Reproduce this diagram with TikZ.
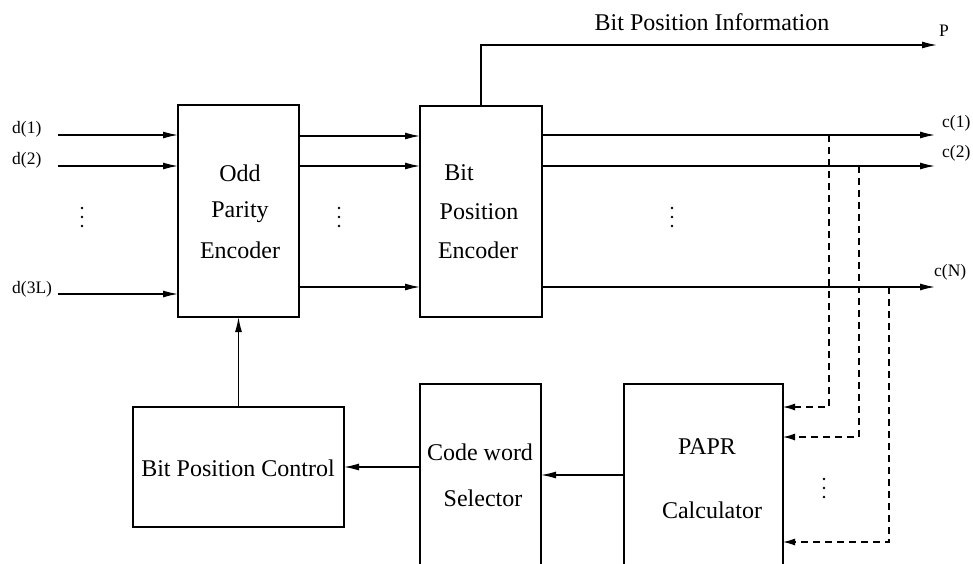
\documentclass[tikz,border=0pt]{standalone}
\usepackage{fontspec}
\setmainfont{Liberation Serif}
\usetikzlibrary{arrows.meta}
\begin{document}
\begin{tikzpicture}[x=1pt,y=-1pt,
  blk/.style={draw,line width=1.3pt,inner sep=0pt,outer sep=0pt},
  big/.style={font=\fontsize{24}{28}\selectfont,inner sep=0pt},
  lbl/.style={font=\fontsize{17.5}{20}\selectfont,inner sep=0pt},
  sig/.style={line width=1.3pt,-{Latex[length=15pt,width=7pt]}},
  fb/.style={line width=1.2pt,dash pattern=on 7pt off 5pt,-{Latex[length=12pt,width=7pt]}},
  dot/.style={circle,fill,inner sep=0pt,minimum size=2.6pt}]
\useasboundingbox (0,0) rectangle (973,563);
\clip (0,0) rectangle (973,563);
% blocks
\node[blk,minimum width=121pt,minimum height=212pt] (ope) at (238.5,211) {};
\node[blk,minimum width=122pt,minimum height=211pt] (bpe) at (481,211.5) {};
\node[blk,minimum width=211pt,minimum height=120pt] (bpc) at (238.5,467) {};
\node[blk,minimum width=121pt,minimum height=236pt] (cws) at (480.5,502) {};
\node[blk,minimum width=159pt,minimum height=236pt] (papr) at (703.5,502) {};
% block texts
\node[big] (t1) at (240,173) {Odd};
\node[big] (t2) at (240,212) {Parity};
\node[big] (t3) at (240,250) {Encoder};
\node[big] (t4) at (459,173) {Bit};
\node[big] (t5) at (479,212) {Position};
\node[big] (t6) at (478,250) {Encoder};
\node[big] (t7) at (238,468) {Bit Position Control};
\node[big] (t8) at (480,452) {Code word};
\node[big] (t9) at (483,498) {Selector};
\node[big] (t10) at (707,447) {PAPR};
\node[big] (t11) at (712,510) {Calculator};
\node[big] (t12) at (712,22) {Bit Position Information};
% input labels
\node[lbl,anchor=west] (d1) at (12,129) {d(1)};
\node[lbl,anchor=west] (d2) at (12,160) {d(2)};
\node[lbl,anchor=west] (d3) at (12,289) {d(3L)};
\coordinate (i1) at (58,135);
\coordinate (i2) at (58,166);
\coordinate (i3) at (58,294);
\draw[sig] (i1) -- (ope.west |- i1);
\draw[sig] (i2) -- (ope.west |- i2);
\draw[sig] (i3) -- (ope.west |- i3);
% middle
\coordinate (m1) at (0,136);
\coordinate (m2) at (0,166);
\coordinate (m3) at (0,287);
\draw[sig] (ope.east |- m1) -- (bpe.west |- m1);
\draw[sig] (ope.east |- m2) -- (bpe.west |- m2);
\draw[sig] (ope.east |- m3) -- (bpe.west |- m3);
% outputs
\coordinate (o1) at (935,135);
\coordinate (o2) at (935,166);
\coordinate (o3) at (935,287);
\node[lbl,anchor=west] (c1) at (942,123) {c(1)};
\node[lbl,anchor=west] (c2) at (942,153) {c(2)};
\node[lbl,anchor=west] (cn) at (934,272) {c(N)};
\draw[sig] (bpe.east |- o1) -- (o1);
\draw[sig] (bpe.east |- o2) -- (o2);
\draw[sig] (bpe.east |- o3) -- (o3);
% bit position info
\coordinate (pt) at (937,45);
\node[lbl,anchor=west] (p) at (939,31) {P};
\draw[sig] (bpe.north) |- (pt);
% feedback dashed
\coordinate (f1) at (829,135);
\coordinate (f2) at (859,166);
\coordinate (f3) at (889,287);
\coordinate (g1) at (829,407);
\coordinate (g2) at (859,437);
\coordinate (g3) at (889,542);
\draw[fb] (f1) -- (g1) -- (papr.east |- g1);
\draw[fb] (f2) -- (g2) -- (papr.east |- g2);
\draw[fb] (f3) -- (g3) -- (papr.east |- g3);
% control path
\coordinate (h1) at (0,475);
\coordinate (h2) at (0,467);
\draw[sig] (papr.west |- h1) -- (cws.east |- h1);
\draw[sig] (cws.west |- h2) -- (bpc.east |- h2);
\draw[sig] (bpc.north) -- (ope.south);
% dots
\foreach \x/\y in {82/208,339/208,672/208,824/479}{
  \node[dot] at (\x,\y) {};
  \node[dot] at (\x,\y+9) {};
  \node[dot] at (\x,\y+18) {};
}
\end{tikzpicture}
\end{document}
